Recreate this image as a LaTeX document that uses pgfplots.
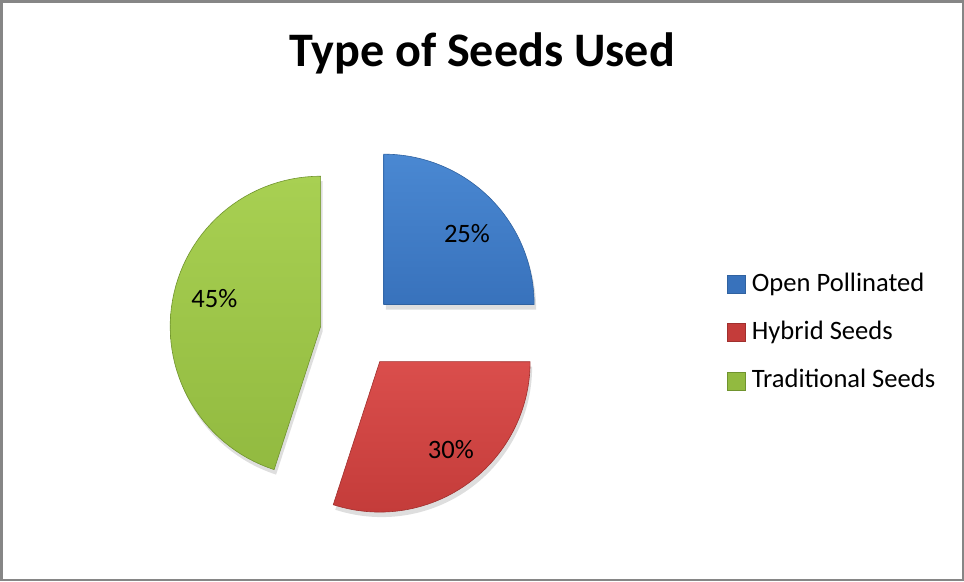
\documentclass[border=0pt]{standalone}
\usepackage{fontspec}
\setmainfont{Carlito}
\usepackage{pgfplots}
\pgfplotsset{compat=1.18}
\definecolor{bdr}{RGB}{134,134,134}
\definecolor{bTop}{RGB}{74,136,210}
\definecolor{bBot}{RGB}{56,114,188}
\definecolor{bEdge}{RGB}{48,98,160}
\definecolor{rTop}{RGB}{218,78,76}
\definecolor{rBot}{RGB}{196,60,58}
\definecolor{rEdge}{RGB}{160,48,46}
\definecolor{gTop}{RGB}{168,208,82}
\definecolor{gBot}{RGB}{146,186,64}
\definecolor{gEdge}{RGB}{112,148,46}
% data: shares in percent
\def\pOpen{25}
\def\pHyb{30}
\def\pTrad{45}
\begin{document}
\begin{tikzpicture}
\begin{axis}[scale only axis, width=964pt, height=582pt,
  xmin=0, xmax=964, ymin=0, ymax=582, y dir=reverse,
  hide axis, clip=false]
% drop shadows
\addplot[draw=none, fill=black, opacity=0.13, domain={90-3.6*\pOpen}:90, samples=60, variable=\t]
  ({386+150*cos(\t)},{310-150*sin(\t)}) -- (axis cs:386,310) -- cycle;
\addplot[draw=none, fill=black, opacity=0.13, domain={-3.6*\pHyb}:0, samples=60, variable=\t]
  ({382+150*cos(\t)},{367-150*sin(\t)}) -- (axis cs:382,367) -- cycle;
\addplot[draw=none, fill=black, opacity=0.13, domain=90:{90+3.6*\pTrad}, samples=60, variable=\t]
  ({323+150*cos(\t)},{332-150*sin(\t)}) -- (axis cs:323,332) -- cycle;
% wedges
\addplot[draw=bEdge, line width=0.6pt, top color=bTop, bottom color=bBot, domain={90-3.6*\pOpen}:90, samples=60, variable=\t]
  ({384+150*cos(\t)},{305-150*sin(\t)}) -- (axis cs:384,305) -- cycle;
\addplot[draw=rEdge, line width=0.6pt, top color=rTop, bottom color=rBot, domain={-3.6*\pHyb}:0, samples=60, variable=\t]
  ({380+150*cos(\t)},{362-150*sin(\t)}) -- (axis cs:380,362) -- cycle;
\addplot[draw=gEdge, line width=0.6pt, top color=gTop, bottom color=gBot, domain=90:{90+3.6*\pTrad}, samples=60, variable=\t]
  ({321+150*cos(\t)},{327-150*sin(\t)}) -- (axis cs:321,327) -- cycle;
% data labels
\node[font=\fontsize{26.5}{31}\selectfont] at (axis cs:467,234) {\pOpen\%};
\node[font=\fontsize{26.5}{31}\selectfont] at (axis cs:451,450) {\pHyb\%};
\node[font=\fontsize{26.5}{31}\selectfont] at (axis cs:215,299) {\pTrad\%};
% legend
\addplot[only marks, mark=square*, mark size=9pt, mark options={draw=bEdge, fill=bBot}] coordinates {(736,285)};
\addplot[only marks, mark=square*, mark size=9pt, mark options={draw=rEdge, fill=rBot}] coordinates {(736,333)};
\addplot[only marks, mark=square*, mark size=9pt, mark options={draw=gEdge, fill=gBot}] coordinates {(736,381)};
\node[font=\fontsize{26.5}{31}\selectfont, anchor=base west, inner sep=0pt] at (axis cs:751,292) {Open Pollinated};
\node[font=\fontsize{26.5}{31}\selectfont, anchor=base west, inner sep=0pt] at (axis cs:751,340) {Hybrid Seeds};
\node[font=\fontsize{26.5}{31}\selectfont, anchor=base west, inner sep=0pt] at (axis cs:751,388) {Traditional Seeds};
% title
\node[font=\fontsize{48}{56}\selectfont\bfseries, anchor=base, inner sep=0pt] at (axis cs:482,68) {Type of Seeds Used};
% frame
\draw[bdr, line width=2.5pt] (axis cs:2.5,2.5) rectangle (axis cs:961.5,579.5);
\end{axis}
\end{tikzpicture}
\end{document}
